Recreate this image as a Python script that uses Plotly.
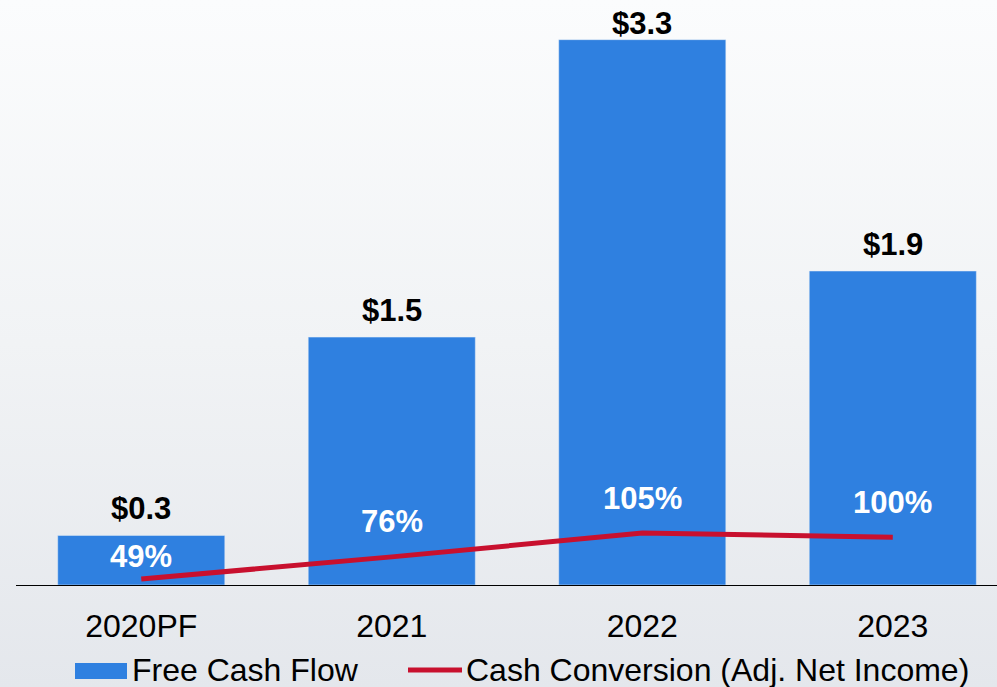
import base64
import plotly.graph_objects as go

categories = ["2020PF", "2021", "2022", "2023"]
fcf_values = [0.3, 1.5, 3.3, 1.9]
fcf_labels = ["$0.3", "$1.5", "$3.3", "$1.9"]
conversion_values = [49, 76, 105, 100]
conversion_labels = ["49%", "76%", "105%", "100%"]

BAR_COLOR = "#2f80e0"
LINE_COLOR = "#c8102e"
FONT = "Arial, Liberation Sans, sans-serif"

W, H = 997, 687
ML, MR, MT, MB = 16, 0, 0, 102
PW, PH = W - ML - MR, H - MT - MB

svg = (
    '<svg xmlns="http://www.w3.org/2000/svg" width="100" height="100" preserveAspectRatio="none">'
    '<defs><linearGradient id="g" x1="0" y1="0" x2="0" y2="1">'
    '<stop offset="0" stop-color="#fbfcfd"/><stop offset="0.5" stop-color="#f1f3f5"/>'
    '<stop offset="1" stop-color="#e4e7ec"/></linearGradient></defs>'
    '<rect width="100" height="100" fill="url(#g)"/></svg>'
)
bg_uri = "data:image/svg+xml;base64," + base64.b64encode(svg.encode()).decode()

fig = go.Figure()
fig.add_trace(go.Bar(
    x=categories, y=fcf_values, marker_color=BAR_COLOR, width=0.667,
    name="Free Cash Flow", showlegend=False, hoverinfo="skip",
))
fig.add_trace(go.Scatter(
    x=categories, y=conversion_values, yaxis="y2", mode="lines",
    line=dict(color=LINE_COLOR, width=5), name="Cash Conversion (Adj. Net Income)",
    showlegend=False, hoverinfo="skip",
))

annotations = []
top_value = max(fcf_values)
for i, (v, t) in enumerate(zip(fcf_values, fcf_labels)):
    annotations.append(dict(x=i, y=v, xref="x", yref="y", text=t, showarrow=False,
                            yanchor="bottom", yshift=-3 if v == top_value else 7,
                            font=dict(family=FONT, size=31, color="black", weight="bold")))
for i, (v, t) in enumerate(zip(conversion_values, conversion_labels)):
    annotations.append(dict(x=i, y=v, xref="x", yref="y2", text=t, showarrow=False,
                            yanchor="middle", yshift=23 if i == 0 else 35,
                            font=dict(family=FONT, size=31, color="white", weight="bold")))


def px_to_paper_x(p):
    return (p - ML) / PW


def px_to_paper_y(p):
    return (MT + PH - p) / PH


# manual legend
leg_y = 670
shapes = [
    dict(type="rect", xref="paper", yref="paper",
         x0=px_to_paper_x(75), x1=px_to_paper_x(127),
         y0=px_to_paper_y(679), y1=px_to_paper_y(663),
         fillcolor=BAR_COLOR, line=dict(width=0)),
    dict(type="line", xref="paper", yref="paper",
         x0=px_to_paper_x(408), x1=px_to_paper_x(462),
         y0=px_to_paper_y(leg_y), y1=px_to_paper_y(leg_y),
         line=dict(color=LINE_COLOR, width=5)),
]
annotations.append(dict(x=px_to_paper_x(130), y=px_to_paper_y(leg_y), xref="paper", yref="paper",
                        text="Free Cash Flow", showarrow=False, xanchor="left", yanchor="middle",
                        font=dict(family=FONT, size=32, color="black")))
annotations.append(dict(x=px_to_paper_x(464), y=px_to_paper_y(leg_y), xref="paper", yref="paper",
                        text="Cash Conversion (Adj. Net Income)", showarrow=False,
                        xanchor="left", yanchor="middle",
                        font=dict(family=FONT, size=32, color="black")))

fig.update_layout(
    width=W, height=H,
    margin=dict(l=ML, r=MR, t=MT, b=MB, pad=0),
    paper_bgcolor="#eef0f3", plot_bgcolor="rgba(0,0,0,0)",
    showlegend=False,
    bargap=0.333,
    xaxis=dict(type="category", range=[-0.5, 3.416], showline=True, linecolor="black",
               linewidth=1.2, showgrid=False, zeroline=False, ticks="", ticklabelstandoff=12,
               tickfont=dict(family=FONT, size=32, color="black"), fixedrange=True),
    yaxis=dict(range=[0, 3.54], visible=False, showgrid=False, zeroline=False, fixedrange=True),
    yaxis2=dict(range=[41.7, 755], overlaying="y", visible=False, showgrid=False,
                zeroline=False, fixedrange=True),
    annotations=annotations,
    shapes=shapes,
    images=[dict(source=bg_uri, xref="paper", yref="paper",
                 x=px_to_paper_x(0), y=px_to_paper_y(0), sizex=W / PW, sizey=H / PH,
                 xanchor="left", yanchor="top", sizing="stretch", layer="below")],
)

fig.write_html(
    "out.html",
    config={"displayModeBar": False},
    post_script="document.body.style.margin='0';document.body.style.padding='0';"
                "document.body.style.overflow='hidden';",
)
